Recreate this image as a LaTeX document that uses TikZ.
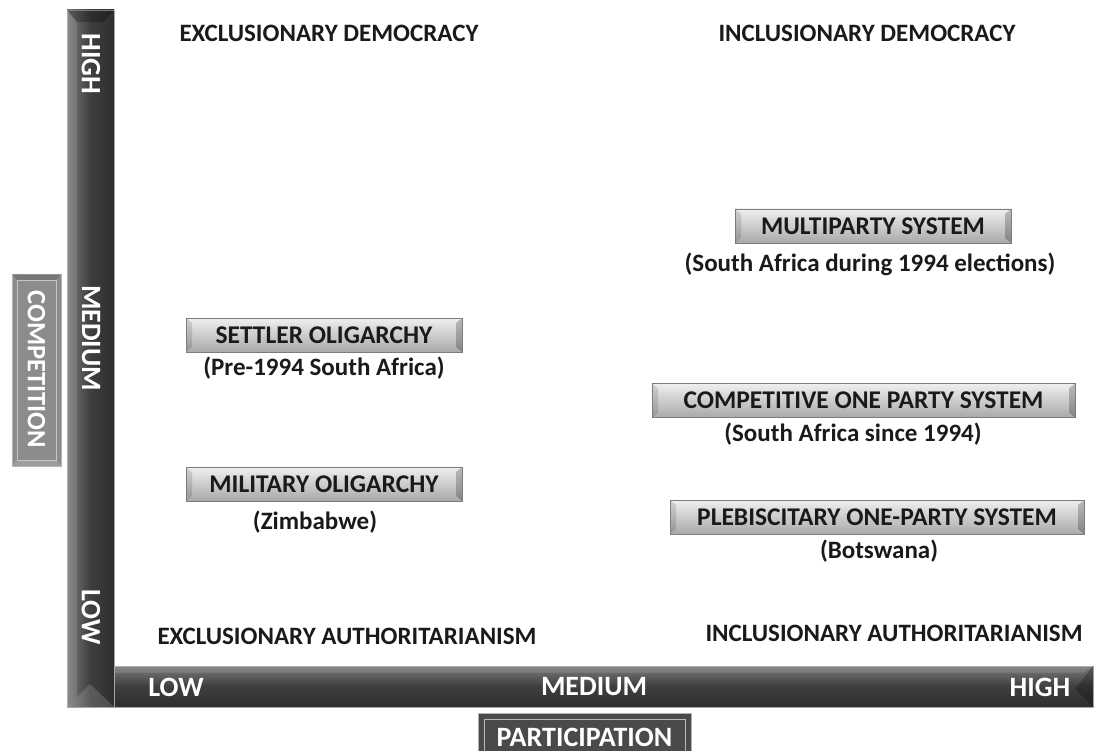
\documentclass[tikz,border=0pt]{standalone}
\usepackage{fontspec}
\setmainfont{Carlito}
\usetikzlibrary{positioning}
\definecolor{barA}{HTML}{7A7A7A}
\definecolor{barB}{HTML}{3E3E3E}
\definecolor{barC}{HTML}{2E2E2E}
\definecolor{boxA}{HTML}{EFEFEF}
\definecolor{boxB}{HTML}{A9A9A9}
\definecolor{boxE}{HTML}{7C7C7C}
\definecolor{compc}{HTML}{8C8C8C}
\definecolor{partc}{HTML}{4A4A4A}
\definecolor{txt}{HTML}{1A1A1A}
\tikzset{
  vbarstyle/.style={draw=gray!70, line width=0.6pt, left color=barA, right color=barC, middle color=barB, inner sep=0pt, rectangle},
  hbarstyle/.style={draw=gray!70, line width=0.6pt, top color=barA, bottom color=barC, middle color=barB, inner sep=0pt, rectangle},
  graybox/.style={draw=boxE, line width=0.8pt, top color=boxA, bottom color=boxB, inner sep=0pt, minimum height=34pt, font=\bfseries\fontsize{25.5}{26}\selectfont, text=txt,
    path picture={
      \fill[black,opacity=0.22] (path picture bounding box.north east) -- ++(-6pt,-5pt) -- ([xshift=-6pt,yshift=5pt]path picture bounding box.south east) -- (path picture bounding box.south east) -- cycle;
      \fill[black,opacity=0.12] (path picture bounding box.north west) -- ++(6pt,-5pt) -- ([xshift=6pt,yshift=5pt]path picture bounding box.south west) -- (path picture bounding box.south west) -- cycle;
    }},
  sub/.style={font=\bfseries\fontsize{25}{26}\selectfont, text=txt},
  quad/.style={font=\bfseries\fontsize{25}{26}\selectfont, text=txt},
  axlab/.style={font=\bfseries\fontsize{28}{28}\selectfont, text=white},
}
\begin{document}
\begin{tikzpicture}[x=1pt,y=-1pt]
\useasboundingbox (0,0) rectangle (1097,751);
\fill[white] (0,0) rectangle (1097,751);
% axes bars
\node[vbarstyle, minimum width=47pt, minimum height=697pt] (vbar) at (90.5,358.5) {};
\node[hbarstyle, minimum width=979pt, minimum height=41pt] (hbar) at (603.5,686.5) {};
% bevels
\fill[black, opacity=0.25] (67,10) -- (114,10) -- (104,22) -- (77,22) -- cycle;
\fill[white, opacity=0.12] (67,707) -- (67,10) -- (77,22) -- (77,697) -- cycle;
\fill[white, opacity=0.15] (67,707) -- (90,684) -- (114,707) -- cycle;
\fill[black, opacity=0.25] (1093,666) -- (1093,707) -- (1075,689) -- cycle;
\fill[white, opacity=0.10] (114,666) -- (1093,666) -- (1083,673) -- (114,673) -- cycle;
% axis labels
\node[axlab, rotate=-90] (vhigh) at (91,64) {HIGH};
\node[axlab, rotate=-90] (vmed) at (91,338) {MEDIUM};
\node[axlab, rotate=-90] (vlow) at (91,617) {LOW};
\node[axlab] (hlow) at (176,687) {LOW};
\node[axlab] (hmed) at (594,687) {MEDIUM};
\node[axlab] (hhigh) at (1040,687) {HIGH};
% axis titles
\node[draw=gray!60, line width=0.8pt, fill=compc, minimum width=49pt, minimum height=192pt, inner sep=0pt] (compbox) at (36.5,370) {};
\fill[black, opacity=0.15] (12,274) -- (61,274) -- (56,280) -- (17,280) -- cycle;
\fill[white, opacity=0.15] (12,466) -- (61,466) -- (56,460) -- (17,460) -- cycle;
\draw[gray!45, line width=1pt] (17,280) rectangle (56,460);
\node[axlab, font=\bfseries\fontsize{26.5}{27}\selectfont, rotate=-90] (comp) at (36.5,369.5) {COMPETITION};
\node[draw=gray!60, line width=0.8pt, fill=partc, minimum width=213pt, minimum height=44pt, inner sep=0pt] (partbox) at (584.5,735) {};
\draw[gray!55, line width=1pt] (484,719) rectangle (685,757);
\node[axlab] (part) at (584.5,737) {PARTICIPATION};
% quadrant labels
\node[quad] (exdem) at (329,33) {EXCLUSIONARY DEMOCRACY};
\node[quad] (indem) at (867,33) {INCLUSIONARY DEMOCRACY};
\node[quad] (exaut) at (347,636) {EXCLUSIONARY AUTHORITARIANISM};
\node[quad] (inaut) at (894,633) {INCLUSIONARY AUTHORITARIANISM};
% boxes
\node[graybox, minimum width=276pt] (settler) at (324,335) {SETTLER OLIGARCHY};
\node[sub] (settlersub) at (324,368) {(Pre-1994 South Africa)};
\node[graybox, minimum width=276pt] (military) at (324,484) {MILITARY OLIGARCHY};
\node[sub] (militarysub) at (315,522) {(Zimbabwe)};
\node[graybox, minimum width=276pt] (multi) at (873,226) {MULTIPARTY SYSTEM};
\node[sub] (multisub) at (870,264) {(South Africa during 1994 elections)};
\node[graybox, minimum width=423pt] (compet) at (863.5,400.5) {COMPETITIVE ONE PARTY SYSTEM};
\node[sub] (competsub) at (853,434) {(South Africa since 1994)};
\node[graybox, minimum width=414pt] (pleb) at (877,517) {PLEBISCITARY ONE-PARTY SYSTEM};
\node[sub] (plebsub) at (879,551) {(Botswana)};
\end{tikzpicture}
\end{document}
